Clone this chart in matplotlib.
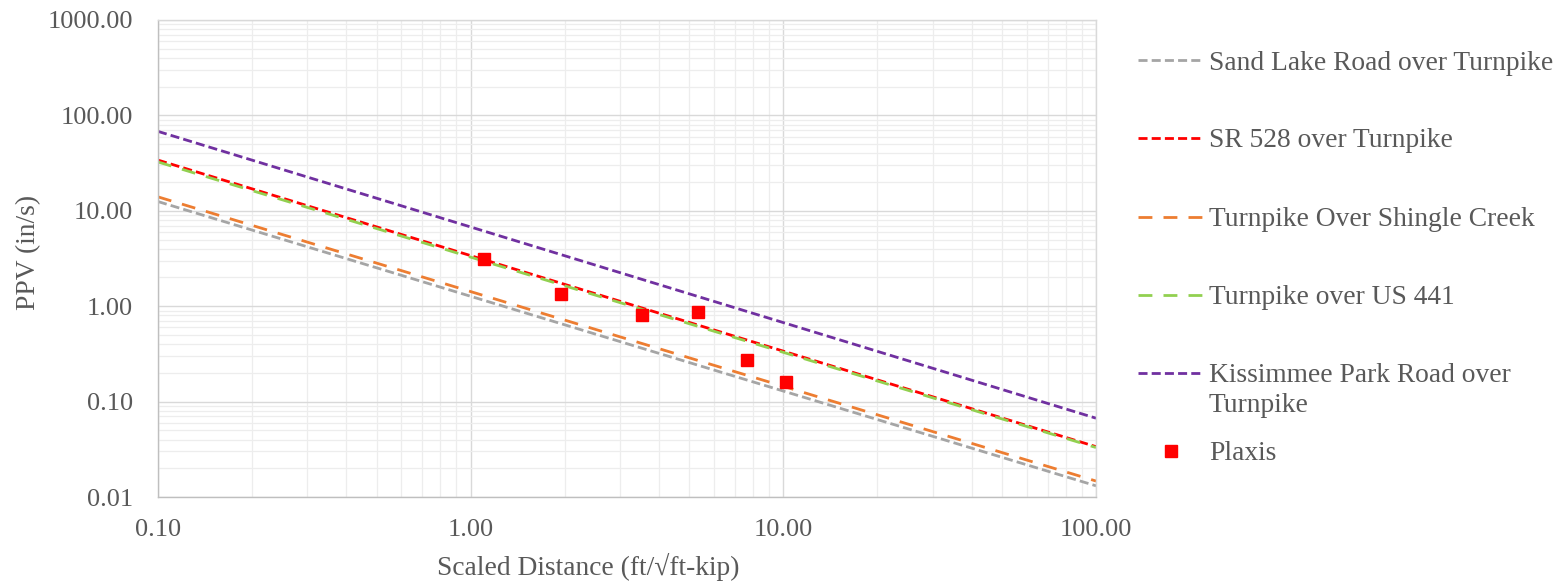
import matplotlib
matplotlib.use("Agg")
import matplotlib.pyplot as plt
from matplotlib.lines import Line2D
from matplotlib.ticker import FixedLocator, FuncFormatter, LogLocator, NullFormatter

plt.rcParams['font.family'] = ['Liberation Serif', 'DejaVu Serif']
plt.rcParams['lines.scale_dashes'] = False

# Attenuation relationships (straight lines on log-log axes), given by their end points
x_range = [0.1, 100.0]
sand_lake = [12.5, 0.0131]
sr528 = [34.0, 0.0337]
shingle_creek = [14.0, 0.0147]
us441 = [32.5, 0.0330]
kissimmee = [68.0, 0.0670]

# Plaxis numerical results
plaxis_x = [1.10, 1.95, 3.54, 5.32, 7.67, 10.2]
plaxis_y = [3.10, 1.34, 0.815, 0.869, 0.273, 0.159]

x_ticks = [0.1, 1, 10, 100]
y_ticks = [0.01, 0.1, 1, 10, 100, 1000]

text_color = '#595959'
W, H = 1555, 581

fig = plt.figure(figsize=(W / 100, H / 100), dpi=100)
ax = fig.add_axes([158 / W, 1 - 497 / H, (1096 - 158) / W, (497 - 20) / H])

short_dash = (0, (6.5, 3.0))
long_dash = (0, (10.0, 8.0))
lw = 2.0

series = [
    (sand_lake, '#a5a5a5', short_dash, 'Sand Lake Road over Turnpike'),
    (sr528, '#ff0000', short_dash, 'SR 528 over Turnpike'),
    (shingle_creek, '#ed7d31', long_dash, 'Turnpike Over Shingle Creek'),
    (us441, '#92d050', long_dash, 'Turnpike over US 441'),
    (kissimmee, '#7030a0', short_dash, 'Kissimmee Park Road over\nTurnpike'),
]
handles = []
for yvals, color, ls, label in series:
    ln, = ax.plot(x_range, yvals, color=color, lw=lw, linestyle=ls, label=label)
    handles.append(ln)
pts, = ax.plot(plaxis_x, plaxis_y, linestyle='none', marker='s', markersize=8.5,
               color='#ff0000', label='Plaxis', zorder=5)
handles.append(pts)

ax.set_xscale('log')
ax.set_yscale('log')
ax.set_xlim(x_ticks[0], x_ticks[-1])
ax.set_ylim(y_ticks[0], y_ticks[-1])

ax.xaxis.set_major_locator(FixedLocator(x_ticks))
ax.yaxis.set_major_locator(FixedLocator(y_ticks))
ax.xaxis.set_minor_locator(LogLocator(base=10, subs=range(2, 10), numticks=20))
ax.yaxis.set_minor_locator(LogLocator(base=10, subs=range(2, 10), numticks=20))
fmt = FuncFormatter(lambda v, p: f'{v:.2f}')
ax.xaxis.set_major_formatter(fmt)
ax.yaxis.set_major_formatter(fmt)
ax.xaxis.set_minor_formatter(NullFormatter())
ax.yaxis.set_minor_formatter(NullFormatter())

ax.grid(which='major', color='#d9d9d9', lw=1.0)
ax.grid(which='minor', color='#ededed', lw=0.9)
ax.set_axisbelow(True)
for s in ax.spines.values():
    s.set_color('#d9d9d9')
    s.set_linewidth(1.0)
for s in ('left', 'bottom'):
    ax.spines[s].set_color('#bfbfbf')

fs = 19
fs_text = 19.8
ax.tick_params(which='both', length=0)
ax.tick_params(axis='x', labelsize=fs, labelcolor=text_color, pad=16)
ax.tick_params(axis='y', labelsize=fs, labelcolor=text_color, pad=18)

ax.set_xlabel('Scaled Distance (ft/\u221aft-kip)', fontsize=fs_text, color=text_color)
ax.xaxis.label.set_va('center')
ax.xaxis.set_label_coords((588 - 158) / (1096 - 158), -(567 - 497) / (497 - 20))
ax.set_ylabel('PPV (in/s)', fontsize=fs_text, color=text_color)
ax.yaxis.label.set_va('center')
ax.yaxis.set_label_coords(-(158 - 29) / (1096 - 158), (497 - 252) / (497 - 20))

# Legend laid out by hand: the handle sits on the first line of each label
row_y = [60, 138, 217, 295, 373, 451]
line_gap = 30
hx0, hx1, tx = 1138, 1203, 1209
for h, y in zip(handles, row_y):
    fy = 1 - y / H
    if h.get_marker() == 's':
        fig.add_artist(Line2D([(hx0 + hx1) / 2 / W], [fy], transform=fig.transFigure,
                              linestyle='none', marker='s', markersize=8.5,
                              color=h.get_color()))
    else:
        fig.add_artist(Line2D([hx0 / W, hx1 / W], [fy, fy], transform=fig.transFigure,
                              color=h.get_color(), lw=lw, linestyle=h.get_linestyle(),
                              dashes=h._unscaled_dash_pattern[1]))
    for i, part in enumerate(h.get_label().split('\n')):
        fig.text(tx / W, 1 - (y + i * line_gap) / H, part, fontsize=fs_text,
                 color=text_color, ha='left', va='center_baseline')

fig.savefig('out.png', dpi=100)
